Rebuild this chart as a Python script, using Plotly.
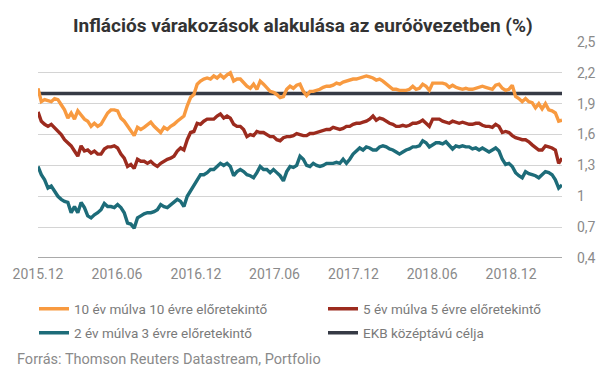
import pandas as pd
import plotly.graph_objects as go

TITLE = "Inflációs várakozások alakulása az euróövezetben (%)"
SOURCE = "Forrás: Thomson Reuters Datastream, Portfolio"

START_DATE = "2015-12-01"
END_DATE = "2019-03-29"

NAME_10Y10Y = "10 év múlva 10 évre előretekintő"
NAME_5Y5Y = "5 év múlva 5 évre előretekintő"
NAME_2Y3Y = "2 év múlva 3 évre előretekintő"
NAME_EKB = "EKB középtávú célja"

ekb_target = 2.0

fwd_10y10y = [
    2.05, 1.92, 1.94, 1.93, 1.92, 1.95, 1.94, 1.89, 1.84, 1.76, 1.81, 1.75, 1.83, 1.79, 1.75, 1.73,
    1.68, 1.71, 1.68, 1.70, 1.76, 1.81, 1.84, 1.84, 1.83, 1.76, 1.73, 1.68, 1.63, 1.59, 1.67,
    1.65, 1.67, 1.70, 1.72, 1.68, 1.65, 1.62, 1.67, 1.65, 1.68, 1.70, 1.73, 1.76, 1.78, 1.88,
    1.96, 1.99, 2.09, 2.12, 2.14, 2.15, 2.14, 2.17, 2.15, 2.18, 2.15, 2.18, 2.20, 2.12, 2.14,
    2.14, 2.10, 2.07, 2.05, 2.09, 2.04, 2.12, 2.09, 2.05, 2.02, 2.01, 1.99, 1.96, 1.97, 2.04,
    2.07, 2.05, 2.08, 2.09, 2.02, 1.98, 2.02, 2.02, 2.03, 2.04, 2.06, 2.07, 2.07, 2.08, 2.10,
    2.09, 2.11, 2.12, 2.13, 2.14, 2.14, 2.15, 2.16, 2.17, 2.16, 2.15, 2.13, 2.14, 2.12, 2.09,
    2.06, 2.04, 2.04, 2.03, 2.03, 2.03, 2.04, 2.07, 2.04, 2.05, 2.09, 2.07, 2.03, 2.10, 2.10,
    2.10, 2.10, 2.09, 2.06, 2.08, 2.06, 2.05, 2.04, 2.05, 2.04, 2.04, 2.05, 2.06, 2.07, 2.06,
    2.05, 2.04, 2.08, 2.09, 2.05, 2.03, 2.04, 2.08, 1.97, 1.95, 1.92, 1.95, 1.92, 1.91, 1.86,
    1.90, 1.85, 1.90, 1.84, 1.83, 1.81, 1.73, 1.74,
]

fwd_5y5y = [
    1.82, 1.73, 1.70, 1.68, 1.70, 1.67, 1.63, 1.60, 1.55, 1.52, 1.49, 1.44, 1.39, 1.49, 1.44, 1.45,
    1.42, 1.44, 1.41, 1.41, 1.46, 1.48, 1.48, 1.49, 1.47, 1.41, 1.37, 1.29, 1.31, 1.27, 1.36,
    1.34, 1.34, 1.32, 1.34, 1.31, 1.29, 1.32, 1.34, 1.36, 1.37, 1.39, 1.44, 1.47, 1.45, 1.55,
    1.62, 1.63, 1.71, 1.70, 1.73, 1.75, 1.75, 1.75, 1.78, 1.80, 1.76, 1.78, 1.76, 1.70, 1.68,
    1.68, 1.65, 1.58, 1.60, 1.59, 1.63, 1.62, 1.62, 1.60, 1.58, 1.58, 1.55, 1.54, 1.57, 1.58,
    1.58, 1.59, 1.61, 1.60, 1.59, 1.59, 1.61, 1.61, 1.62, 1.63, 1.64, 1.65, 1.65, 1.67, 1.66,
    1.65, 1.66, 1.68, 1.68, 1.70, 1.71, 1.71, 1.72, 1.73, 1.75, 1.78, 1.74, 1.76, 1.75, 1.73,
    1.71, 1.70, 1.68, 1.68, 1.69, 1.68, 1.69, 1.71, 1.71, 1.72, 1.74, 1.71, 1.68, 1.75, 1.75,
    1.75, 1.73, 1.72, 1.71, 1.73, 1.72, 1.71, 1.72, 1.71, 1.70, 1.70, 1.71, 1.71, 1.69, 1.68,
    1.68, 1.67, 1.70, 1.68, 1.62, 1.63, 1.62, 1.59, 1.57, 1.56, 1.55, 1.55, 1.53, 1.50, 1.47,
    1.45, 1.45, 1.49, 1.48, 1.47, 1.45, 1.32, 1.37,
]

fwd_2y3y = [
    1.29, 1.21, 1.16, 1.08, 1.10, 1.05, 1.00, 0.97, 0.95, 0.94, 0.84, 0.90, 0.84, 0.94, 0.89, 0.81,
    0.79, 0.82, 0.84, 0.87, 0.93, 0.90, 0.90, 0.89, 0.92, 0.89, 0.84, 0.74, 0.73, 0.69, 0.79,
    0.81, 0.83, 0.84, 0.84, 0.85, 0.87, 0.92, 0.90, 0.89, 0.92, 0.94, 0.97, 0.95, 0.90, 1.00,
    1.05, 1.10, 1.16, 1.21, 1.21, 1.23, 1.26, 1.26, 1.29, 1.32, 1.30, 1.32, 1.29, 1.20, 1.24,
    1.26, 1.24, 1.21, 1.20, 1.18, 1.23, 1.29, 1.26, 1.26, 1.23, 1.26, 1.23, 1.20, 1.15, 1.24,
    1.29, 1.28, 1.30, 1.39, 1.36, 1.30, 1.29, 1.32, 1.30, 1.29, 1.30, 1.32, 1.32, 1.32, 1.33,
    1.32, 1.36, 1.32, 1.36, 1.41, 1.44, 1.47, 1.45, 1.48, 1.47, 1.45, 1.45, 1.48, 1.49, 1.48,
    1.46, 1.45, 1.43, 1.41, 1.43, 1.45, 1.46, 1.48, 1.48, 1.49, 1.54, 1.52, 1.48, 1.50, 1.52,
    1.52, 1.51, 1.53, 1.49, 1.46, 1.49, 1.48, 1.49, 1.48, 1.48, 1.46, 1.47, 1.45, 1.47, 1.45,
    1.43, 1.45, 1.47, 1.44, 1.36, 1.31, 1.32, 1.29, 1.23, 1.20, 1.18, 1.24, 1.22, 1.21, 1.20,
    1.18, 1.21, 1.24, 1.23, 1.21, 1.16, 1.08, 1.11,
]

x_tick_dates = ["2015-12-01", "2016-06-01", "2016-12-01", "2017-06-01",
                "2017-12-01", "2018-06-01", "2018-12-01"]
x_tick_labels = ["2015.12", "2016.06", "2016.12", "2017.06", "2017.12", "2018.06", "2018.12"]

y_tick_values = [0.4, 0.7, 1.0, 1.3, 1.6, 1.9, 2.2, 2.5]
y_tick_labels = ["0,4", "0,7", "1", "1,3", "1,6", "1,9", "2,2", "2,5"]

dates = pd.date_range(START_DATE, END_DATE, periods=len(fwd_10y10y))

C_ORANGE = "#f89a40"
C_RED = "#9c2b1e"
C_TEAL = "#1d6c79"
C_DARK = "#363a45"
LW = 3.4

# plot area in pixels (for placing legends/annotations in paper coordinates)
PL, PR, PT, PB = 38, 562, 42, 258
PW, PH = PR - PL, PB - PT


def px_x(x):
    return (x - PL) / PW


def px_y(y):
    return (PB - y) / PH


fig = go.Figure()
fig.add_trace(go.Scatter(x=[dates[0], dates[-1]], y=[ekb_target, ekb_target], mode="lines",
                         name=NAME_EKB, line=dict(color=C_DARK, width=LW),
                         legend="legend4", hoverinfo="skip"))
fig.add_trace(go.Scatter(x=dates, y=fwd_10y10y, mode="lines", name=NAME_10Y10Y,
                         line=dict(color=C_ORANGE, width=LW), legend="legend"))
fig.add_trace(go.Scatter(x=dates, y=fwd_5y5y, mode="lines", name=NAME_5Y5Y,
                         line=dict(color=C_RED, width=LW), legend="legend2"))
fig.add_trace(go.Scatter(x=dates, y=fwd_2y3y, mode="lines", name=NAME_2Y3Y,
                         line=dict(color=C_TEAL, width=LW), legend="legend3"))


def leg(xp, yp):
    return dict(orientation="h", xanchor="left", yanchor="middle", x=px_x(xp), y=px_y(yp),
                font=dict(family="Roboto", size=13.5, color="#7a7a7a"),
                bgcolor="rgba(0,0,0,0)", itemwidth=30, borderwidth=0)


fig.update_layout(
    width=605, height=378,
    margin=dict(l=PL, r=605 - PR, t=PT, b=378 - PB, autoexpand=False),
    paper_bgcolor="white", plot_bgcolor="white",
    font=dict(family="Roboto", color="#8a8a8a"),
    showlegend=True,
    legend=leg(34, 309),
    legend2=leg(323, 309),
    legend3=leg(34, 333),
    legend4=leg(323, 333),
    xaxis=dict(type="date", range=[dates[0], dates[-1]], tickvals=x_tick_dates,
               ticktext=x_tick_labels, showgrid=False, zeroline=False, showline=False,
               ticks="", tickfont=dict(size=14, color="#8a8a8a"), ticklabelstandoff=6),
    yaxis=dict(side="right", range=[0.4, 2.5], tickvals=y_tick_values, ticktext=y_tick_labels,
               showgrid=True, gridcolor="#d4d4d4", gridwidth=1.2, zeroline=False,
               showline=False, ticks="", tickfont=dict(size=14, color="#8a8a8a"),
               ticklabelstandoff=14),
    annotations=[
        dict(text=TITLE, xref="paper", yref="paper", x=px_x(303), y=px_y(26), xanchor="center",
             yanchor="middle", showarrow=False,
             font=dict(family="Roboto", size=19, color="#333333", weight="bold")),
        dict(text=SOURCE, xref="paper", yref="paper", x=px_x(15), y=px_y(359),
             xanchor="left", yanchor="middle", showarrow=False,
             font=dict(family="Roboto", size=14.5, color="#8a8a8a")),
    ],
    shapes=[dict(type="line", xref="paper", yref="y", x0=0, x1=1, y0=0.4, y1=0.4,
                 line=dict(color="#8c8c8c", width=1.5))],
)

fig.write_html("out.html", config={"displayModeBar": False},
               post_script="document.body.style.margin='0px';document.body.style.overflow='hidden';")
